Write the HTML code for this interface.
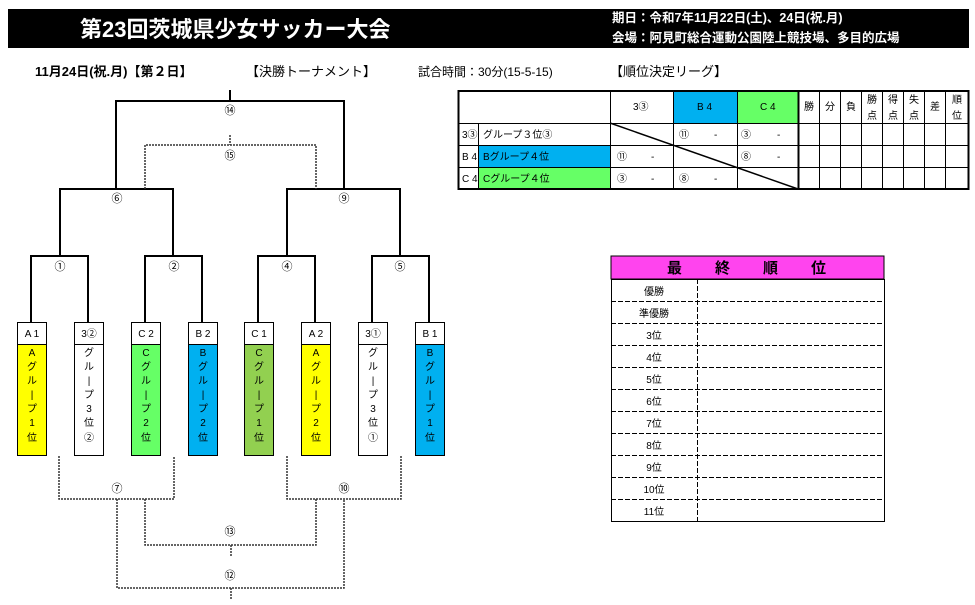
<!DOCTYPE html>
<html><head><meta charset="utf-8"><style>
html,body{margin:0;padding:0;background:#fff}
svg{display:block}
text{font-family:"Liberation Sans","Noto Sans CJK JP",sans-serif}
</style></head><body>
<svg width="975" height="605" viewBox="0 0 975 605" xmlns="http://www.w3.org/2000/svg">
<rect x="0" y="0" width="975" height="605" fill="#fff"/>
<rect x="8" y="9" width="961" height="39" fill="#000"/>
<text x="80" y="37" fill="#fff" font-size="22" font-weight="bold">第23回茨城県少女サッカー大会</text>
<text x="612" y="22" fill="#fff" font-size="12.5" font-weight="bold">期日：令和7年11月22日(土)、24日(祝.月)</text>
<text x="612" y="42" fill="#fff" font-size="12.5" font-weight="bold">会場：阿見町総合運動公園陸上競技場、多目的広場</text>

<text x="35" y="76" font-size="13" font-weight="bold">11月24日(祝.月)【第２日】</text>
<text x="246" y="76" font-size="13">【決勝トーナメント】</text>
<text x="418" y="76" font-size="12">試合時間：30分(15-5-15)</text>
<text x="610" y="76" font-size="13">【順位決定リーグ】</text>

<!-- solid bracket -->
<g stroke="#000" stroke-width="2" fill="none">
<path d="M230 90V101M116 189V101H344V189"/>
<path d="M60 256V189H173V256M287 256V189H400V256"/>
<path d="M31 322V256H88V322M145 322V256H202V322M258 322V256H315V322M372 322V256H429V322"/>
</g>
<g stroke="#333" stroke-width="1.5" fill="none" stroke-dasharray="2,1">
<path d="M230 135V145M145 189V145H316V189"/>
<path d="M59 456V499H174V456M287 456V499H401V456"/>
<path d="M145 499V545H316V499M231 545V556"/>
<path d="M117 499V588H344V499M231 588V600"/>
</g>
<g font-size="11" text-anchor="middle">
<text x="230" y="114">⑭</text><text x="230" y="159">⑮</text>
<text x="117" y="202">⑥</text><text x="344" y="202">⑨</text>
<text x="60" y="270">①</text><text x="174" y="270">②</text><text x="287" y="270">④</text><text x="400" y="270">⑤</text>
<text x="117" y="492">⑦</text><text x="344" y="492">⑩</text>
<text x="230" y="535">⑬</text><text x="230" y="579">⑫</text>
</g>

<!-- team boxes -->
<g stroke="#000" stroke-width="1" font-size="10" text-anchor="middle">
<rect x="17.5" y="322.5" width="29" height="22" fill="#fff"/><rect x="17.5" y="344.5" width="29" height="111" fill="#ffff00"/>
<rect x="74.5" y="322.5" width="29" height="22" fill="#fff"/><rect x="74.5" y="344.5" width="29" height="111" fill="#fff"/>
<rect x="131.5" y="322.5" width="29" height="22" fill="#fff"/><rect x="131.5" y="344.5" width="29" height="111" fill="#66ff66"/>
<rect x="188.5" y="322.5" width="29" height="22" fill="#fff"/><rect x="188.5" y="344.5" width="29" height="111" fill="#00b0f0"/>
<rect x="244.5" y="322.5" width="29" height="22" fill="#fff"/><rect x="244.5" y="344.5" width="29" height="111" fill="#92d050"/>
<rect x="301.5" y="322.5" width="29" height="22" fill="#fff"/><rect x="301.5" y="344.5" width="29" height="111" fill="#ffff00"/>
<rect x="358.5" y="322.5" width="29" height="22" fill="#fff"/><rect x="358.5" y="344.5" width="29" height="111" fill="#fff"/>
<rect x="415.5" y="322.5" width="29" height="22" fill="#fff"/><rect x="415.5" y="344.5" width="29" height="111" fill="#00b0f0"/>
</g>
<g font-size="10" text-anchor="middle" fill="#000">
<text x="32" y="337">A 1</text><text x="89" y="337">3②</text><text x="146" y="337">C 2</text><text x="203" y="337">B 2</text>
<text x="259" y="337">C 1</text><text x="316" y="337">A 2</text><text x="373" y="337">3①</text><text x="430" y="337">B 1</text>
</g>
<g font-size="10" text-anchor="middle" fill="#000">
<text x="32"><tspan x="32" y="356">A</tspan><tspan x="32" y="370">グ</tspan><tspan x="32" y="384">ル</tspan><tspan x="32" y="398">|</tspan><tspan x="32" y="412">プ</tspan><tspan x="32" y="426">1</tspan><tspan x="32" y="441">位</tspan></text>
<text x="89"><tspan x="89" y="356">グ</tspan><tspan x="89" y="370">ル</tspan><tspan x="89" y="384">|</tspan><tspan x="89" y="398">プ</tspan><tspan x="89" y="412">3</tspan><tspan x="89" y="426">位</tspan><tspan x="89" y="441">②</tspan></text>
<text x="146"><tspan x="146" y="356">C</tspan><tspan x="146" y="370">グ</tspan><tspan x="146" y="384">ル</tspan><tspan x="146" y="398">|</tspan><tspan x="146" y="412">プ</tspan><tspan x="146" y="426">2</tspan><tspan x="146" y="441">位</tspan></text>
<text x="203"><tspan x="203" y="356">B</tspan><tspan x="203" y="370">グ</tspan><tspan x="203" y="384">ル</tspan><tspan x="203" y="398">|</tspan><tspan x="203" y="412">プ</tspan><tspan x="203" y="426">2</tspan><tspan x="203" y="441">位</tspan></text>
<text x="259"><tspan x="259" y="356">C</tspan><tspan x="259" y="370">グ</tspan><tspan x="259" y="384">ル</tspan><tspan x="259" y="398">|</tspan><tspan x="259" y="412">プ</tspan><tspan x="259" y="426">1</tspan><tspan x="259" y="441">位</tspan></text>
<text x="316"><tspan x="316" y="356">A</tspan><tspan x="316" y="370">グ</tspan><tspan x="316" y="384">ル</tspan><tspan x="316" y="398">|</tspan><tspan x="316" y="412">プ</tspan><tspan x="316" y="426">2</tspan><tspan x="316" y="441">位</tspan></text>
<text x="373"><tspan x="373" y="356">グ</tspan><tspan x="373" y="370">ル</tspan><tspan x="373" y="384">|</tspan><tspan x="373" y="398">プ</tspan><tspan x="373" y="412">3</tspan><tspan x="373" y="426">位</tspan><tspan x="373" y="441">①</tspan></text>
<text x="430"><tspan x="430" y="356">B</tspan><tspan x="430" y="370">グ</tspan><tspan x="430" y="384">ル</tspan><tspan x="430" y="398">|</tspan><tspan x="430" y="412">プ</tspan><tspan x="430" y="426">1</tspan><tspan x="430" y="441">位</tspan></text>
</g>

<!-- league table -->
<rect x="673" y="91" width="64" height="32" fill="#00b0f0"/>
<rect x="737" y="91" width="61" height="32" fill="#66ff66"/>
<rect x="478" y="145" width="132" height="22" fill="#00b0f0"/>
<rect x="478" y="167" width="132" height="22" fill="#66ff66"/>
<g stroke="#000" stroke-width="1" fill="none">
<path d="M458 123.5H968M458 145.5H968M458 167.5H968"/>
<path d="M478.5 123V189M610.5 91V189M673.5 91V189M737.5 91V189"/>
<path d="M819.5 91V189M840.5 91V189M861.5 91V189M882.5 91V189M903.5 91V189M924.5 91V189M945.5 91V189"/>
<path d="M610 123L798 189" stroke-width="1.5"/>
</g>
<rect x="458.5" y="91" width="510" height="98" fill="none" stroke="#000" stroke-width="2"/>
<path d="M798.5 91V189" stroke="#000" stroke-width="2"/>
<g font-size="10" fill="#000">
<text x="633" y="110">3③</text><text x="697" y="110">B 4</text><text x="760" y="110">C 4</text>
<text x="804" y="110">勝</text><text x="825" y="110">分</text><text x="846" y="110">負</text>
<text x="867" y="103">勝</text><text x="867" y="119">点</text>
<text x="888" y="103">得</text><text x="888" y="119">点</text>
<text x="909" y="103">失</text><text x="909" y="119">点</text>
<text x="930" y="110">差</text>
<text x="952" y="103">順</text><text x="952" y="119">位</text>
<text x="462" y="138">3③</text><text x="483" y="138">グループ３位③</text>
<text x="462" y="160">B 4</text><text x="483" y="160">Bグループ４位</text>
<text x="462" y="182">C 4</text><text x="483" y="182">Cグループ４位</text>
<text x="679" y="138">⑪</text><text x="714" y="138">-</text><text x="741" y="138">③</text><text x="777" y="138">-</text>
<text x="617" y="160">⑪</text><text x="651" y="160">-</text><text x="741" y="160">⑧</text><text x="777" y="160">-</text>
<text x="617" y="182">③</text><text x="651" y="182">-</text><text x="679" y="182">⑧</text><text x="714" y="182">-</text>
</g>

<!-- final ranking -->
<rect x="611" y="256" width="273" height="23" fill="#ff44ee" stroke="#000" stroke-width="1"/>
<text x="747" y="273" font-size="15" font-weight="bold" text-anchor="middle" letter-spacing="1">最　　終　　順　　位</text>
<rect x="611.5" y="279.5" width="273" height="242" fill="none" stroke="#000" stroke-width="1"/>
<g stroke="#000" stroke-width="1" stroke-dasharray="5,2">
<path d="M611 301.5H884M611 323.5H884M611 345.5H884M611 367.5H884M611 389.5H884M611 411.5H884M611 433.5H884M611 455.5H884M611 477.5H884M611 499.5H884"/>
<path d="M697.5 279V521"/>
</g>
<g font-size="10" text-anchor="middle" fill="#000">
<text x="654" y="295">優勝</text><text x="654" y="317">準優勝</text><text x="654" y="339">3位</text><text x="654" y="361">4位</text>
<text x="654" y="383">5位</text><text x="654" y="405">6位</text><text x="654" y="427">7位</text><text x="654" y="449">8位</text>
<text x="654" y="471">9位</text><text x="654" y="493">10位</text><text x="654" y="515">11位</text>
</g>
</svg>
</body></html>
